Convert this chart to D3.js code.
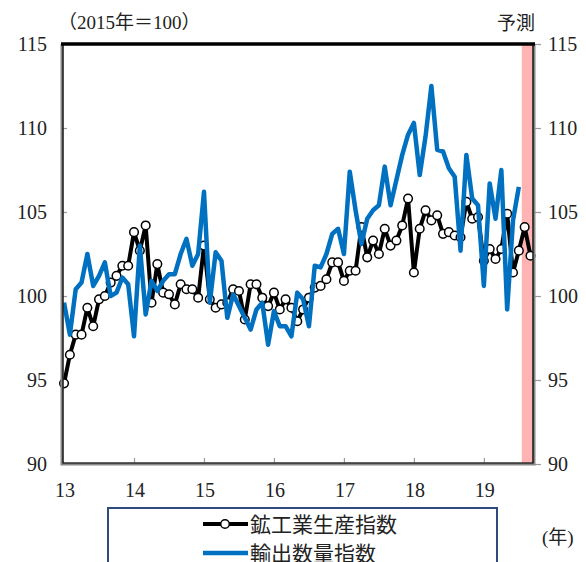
<!DOCTYPE html>
<html>
<head>
<meta charset="utf-8">
<script src="https://cdn.jsdelivr.net/npm/d3@7"></script>
<style>
  html, body { margin: 0; padding: 0; background: #fff; }
  svg { display: block; }
  text { font-family: "Liberation Serif", "Noto Sans CJK JP", serif; fill: #222; }
</style>
</head>
<body>
<svg id="chart" width="586" height="562"></svg>
<script>
// Monthly index values, Jan 2013 onward (2015 = 100)
const production = [
  94.8, 96.5, 97.7, 97.7, 99.3, 98.2, 99.8, 100.0, 100.8, 101.2, 101.8, 101.8,
  103.8, 102.7, 104.2, 99.6, 101.9, 100.2, 100.1, 99.5, 100.7, 100.4, 100.4, 99.9,
  103.0, 99.8, 99.3, 99.5, 99.6, 100.4, 100.3, 98.6, 100.7, 100.7, 99.9, 99.4,
  100.2, 99.2, 99.8, 99.3, 98.5, 99.2, 99.9, 100.5, 100.6, 101.0, 102.0, 102.0,
  100.9, 101.5, 101.5, 104.1, 102.3, 103.3, 102.5, 104.0, 103.0, 103.3, 104.2, 105.8,
  101.4, 104.0, 105.1, 104.5, 104.8, 103.7, 103.8, 103.6, 103.5, 105.6, 104.6, 104.7,
  102.1, 102.8, 102.2, 102.8, 104.9, 101.4, 102.7, 104.1, 102.4
];
const exportsVol = [
  99.6, 97.7, 100.4, 100.8, 102.5, 100.6, 101.2, 102.0, 100.0, 100.2, 101.1, 100.7,
  97.6, 103.0, 98.9, 100.9, 100.3, 100.9, 101.3, 101.3, 102.5, 103.4, 101.8, 102.5,
  106.2, 99.6, 102.6, 102.1, 98.7, 100.1, 99.4, 98.7, 98.0, 99.2, 99.6, 97.1,
  99.1, 98.2, 98.2, 97.6, 100.2, 99.8, 98.2, 101.8, 101.7, 102.5, 103.7, 104.0,
  102.5, 107.4, 105.1, 103.1, 104.6, 105.1, 105.4, 107.7, 105.4, 106.9, 108.4, 109.6,
  110.3, 107.2, 109.5, 112.5, 108.7, 108.6, 107.6, 107.1, 102.7, 108.4, 105.8, 105.4,
  100.6, 106.7, 104.6, 107.5, 99.2, 104.5, 106.5
];
const yearLabels = ["13", "14", "15", "16", "17", "18", "19"];
const yTicks = [90, 95, 100, 105, 110, 115];
const forecastStart = 79; // first forecast month index (Aug 2019)
const seriesNames = ["鉱工業生産指数", "輸出数量指数"];

const svg = d3.select("#chart");
const L = 62, R = 534, T = 44, B = 464;

const x = d3.scaleLinear().domain([-0.35, 80.6]).range([L, R]);
const y = d3.scaleLinear().domain([90, 115]).range([B, T]);

// forecast band
svg.append("rect")
  .attr("x", x(forecastStart - 0.5)).attr("y", T)
  .attr("width", R - x(forecastStart - 0.5)).attr("height", B - T)
  .attr("fill", "#FFB3B3");

// inner ticks (left and bottom), outer ticks on the right
const tickColor = "#999";
const leftAxis = d3.axisRight(y).tickValues(yTicks.slice(1, -1)).tickSize(5).tickFormat("");
svg.append("g").attr("transform", `translate(${L},0)`).call(leftAxis)
  .call(g => g.select(".domain").remove())
  .call(g => g.selectAll("line").attr("stroke", tickColor).attr("stroke-width", 1.2));
const rightAxis = d3.axisRight(y).tickValues(yTicks).tickSize(7).tickFormat("");
svg.append("g").attr("transform", `translate(${R},0)`).call(rightAxis)
  .call(g => g.select(".domain").remove())
  .call(g => g.selectAll("line").attr("stroke", tickColor).attr("stroke-width", 1.2));
const bottomAxis = d3.axisTop(x).tickValues(d3.range(12, 80, 12)).tickSize(6).tickFormat("");
svg.append("g").attr("transform", `translate(0,${B})`).call(bottomAxis)
  .call(g => g.select(".domain").remove())
  .call(g => g.selectAll("line").attr("stroke", tickColor).attr("stroke-width", 1.2));

// tick labels
svg.append("g").selectAll("text").data(yTicks).join("text")
  .attr("x", 47).attr("y", d => y(d)).attr("dy", "0.35em")
  .attr("text-anchor", "end").attr("font-size", 20).text(d => d);
svg.append("g").selectAll("text").data(yTicks).join("text")
  .attr("x", 548).attr("y", d => y(d)).attr("dy", "0.35em")
  .attr("text-anchor", "start").attr("font-size", 20).text(d => d);
svg.append("g").selectAll("text").data(yearLabels).join("text")
  .attr("x", (d, i) => x(i * 12) + 1).attr("y", 497)
  .attr("text-anchor", "middle").attr("font-size", 20).text(d => d);

// series lines
const line = d3.line().x((d, i) => x(i)).y(d => y(d));
svg.append("path").datum(production).attr("d", line)
  .attr("fill", "none").attr("stroke", "#000").attr("stroke-width", 4)
  .attr("stroke-linejoin", "round");
svg.append("g").selectAll("circle").data(production).join("circle")
  .attr("cx", (d, i) => x(i)).attr("cy", d => y(d)).attr("r", 4.3)
  .attr("fill", "#fff").attr("stroke", "#000").attr("stroke-width", 1.5);
svg.append("path").datum(exportsVol).attr("d", line)
  .attr("fill", "none").attr("stroke", "#0070C0").attr("stroke-width", 4.5)
  .attr("stroke-linejoin", "round");

// plot frame
svg.append("path")
  .attr("d", `M${L},${T} V${B} H${R} V${T}`)
  .attr("fill", "none").attr("stroke", "#888").attr("stroke-width", 3);
svg.append("path")
  .attr("d", `M${L + 1},${T} V${B - 1} H${R - 1} V${T}`)
  .attr("fill", "none").attr("stroke", "#000").attr("stroke-width", 1.2);
svg.append("line")
  .attr("x1", L - 1).attr("x2", R + 1).attr("y1", T).attr("y2", T)
  .attr("stroke", "#000").attr("stroke-width", 3.5);

// annotations
svg.append("text").attr("x", 58).attr("y", 29).attr("font-size", 19).text("（2015年＝100）");
svg.append("text").attr("x", 535).attr("y", 30).attr("text-anchor", "end").attr("font-size", 19).text("予測");
svg.append("text").attr("x", 542).attr("y", 537).attr("dy", "0.35em").attr("font-size", 19).text("(年)");

// legend
const lg = svg.append("g");
lg.append("rect").attr("x", 108).attr("y", 508).attr("width", 389).attr("height", 70)
  .attr("fill", "#fff").attr("stroke", "#2F4A7F").attr("stroke-width", 2);
lg.append("line").attr("x1", 203).attr("x2", 248).attr("y1", 524).attr("y2", 524)
  .attr("stroke", "#000").attr("stroke-width", 4);
lg.append("circle").attr("cx", 225).attr("cy", 524).attr("r", 4.3)
  .attr("fill", "#fff").attr("stroke", "#000").attr("stroke-width", 1.5);
lg.append("line").attr("x1", 203).attr("x2", 248).attr("y1", 553).attr("y2", 553)
  .attr("stroke", "#0070C0").attr("stroke-width", 4.5);
lg.selectAll("text.lab").data(seriesNames).join("text").attr("class", "lab")
  .attr("x", 250).attr("y", (d, i) => 524 + i * 29).attr("dy", "0.36em")
  .attr("font-size", 21).text(d => d);
</script>
</body>
</html>
